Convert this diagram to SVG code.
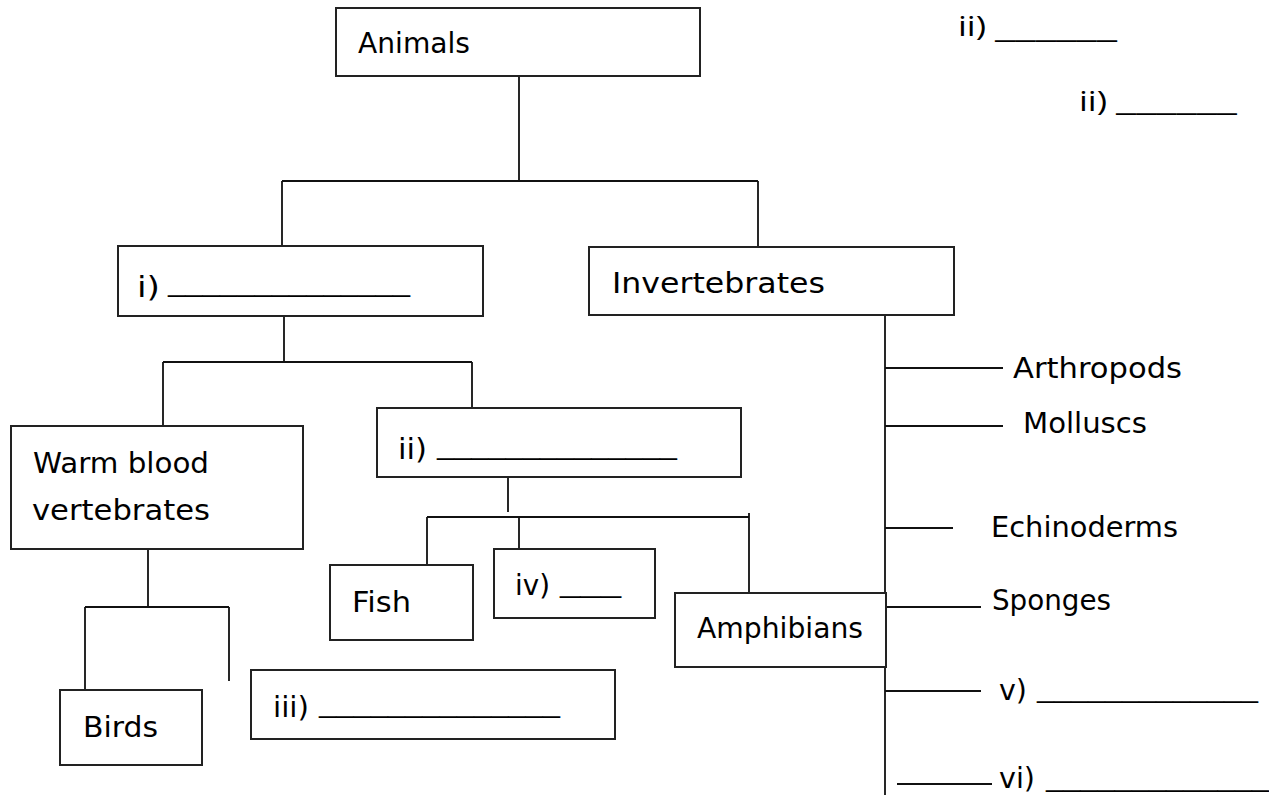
<svg xmlns="http://www.w3.org/2000/svg" width="1269" height="795" viewBox="0 0 1269 795">
<style>
.box{fill:#fff;stroke:#222;stroke-width:2}
.ln{fill:none;stroke:#111;stroke-width:1.8}
.t{font-family:"DejaVu Sans",sans-serif;font-size:27.5px;fill:#000}
.u{font-family:"DejaVu Sans",sans-serif;font-size:27px;fill:#000}
.c{font-family:"Open Sans",sans-serif;font-size:28px;fill:#000}
</style>
<rect width="1269" height="795" fill="#fff"/>
<g id="connectors">
<path class="ln" d="M519,76V181M282,181H758M282,181V246M758,181V247"/>
<path class="ln" d="M284,316V362M163,362H472M163,362V426M472,362V408"/>
<path class="ln" d="M508,477V512M427,517H749M427,517V565M519,517V549M749,513V592"/>
<path class="ln" d="M148,549V607M85,607H229M85,607V690M229,607V681"/>
<path class="ln" d="M885,315V795M885,368H1003M885,426H1003M885,528H953M885,607H981M885,691H981M897,784H992"/>
</g>
<g id="animals">
<rect class="box" x="336" y="8" width="364" height="68"/>
<text class="t" x="358" y="53" textLength="112" lengthAdjust="spacingAndGlyphs">Animals</text>
</g>
<g id="vertebrates">
<rect class="box" x="118" y="246" width="365" height="70"/>
<text class="t" x="137" y="297" textLength="23" lengthAdjust="spacingAndGlyphs">i)</text>
<text class="u" x="168" y="291" textLength="242" lengthAdjust="spacingAndGlyphs">______________</text>
</g>
<g id="invertebrates">
<rect class="box" x="589" y="247" width="365" height="68"/>
<text class="t" x="612" y="293" textLength="213" lengthAdjust="spacingAndGlyphs">Invertebrates</text>
</g>
<g id="warm-blood">
<rect class="box" x="11" y="426" width="292" height="123"/>
<text class="t" x="33" y="473" textLength="176" lengthAdjust="spacingAndGlyphs">Warm blood</text>
<text class="t" x="32" y="520" textLength="178" lengthAdjust="spacingAndGlyphs">vertebrates</text>
</g>
<g id="cold-blood">
<rect class="box" x="377" y="408" width="364" height="69"/>
<text class="t" x="398" y="459" textLength="29" lengthAdjust="spacingAndGlyphs">ii)</text>
<text class="u" x="437" y="454" textLength="240" lengthAdjust="spacingAndGlyphs">______________</text>
</g>
<g id="fish">
<rect class="box" x="330" y="565" width="143" height="75"/>
<text class="t" x="352" y="612" textLength="59" lengthAdjust="spacingAndGlyphs">Fish</text>
</g>
<g id="reptiles">
<rect class="box" x="494" y="549" width="161" height="69"/>
<text class="t" x="515" y="595" textLength="35" lengthAdjust="spacingAndGlyphs">iv)</text>
<text class="u" x="560" y="592" textLength="61" lengthAdjust="spacingAndGlyphs">___</text>
</g>
<g id="amphibians">
<rect class="box" x="675" y="593" width="211" height="74"/>
<text class="t" x="697" y="638" textLength="166" lengthAdjust="spacingAndGlyphs">Amphibians</text>
</g>
<g id="birds">
<rect class="box" x="60" y="690" width="142" height="75"/>
<text class="t" x="83" y="737" textLength="75" lengthAdjust="spacingAndGlyphs">Birds</text>
</g>
<g id="mammals">
<rect class="box" x="251" y="670" width="364" height="69"/>
<text class="t" x="273" y="717" textLength="36" lengthAdjust="spacingAndGlyphs">iii)</text>
<text class="u" x="319" y="712" textLength="241" lengthAdjust="spacingAndGlyphs">______________</text>
</g>
<g id="arthropods">
<text class="t" x="1013" y="378" textLength="169" lengthAdjust="spacingAndGlyphs">Arthropods</text>
</g>
<g id="molluscs">
<text class="t" x="1023" y="433" textLength="124" lengthAdjust="spacingAndGlyphs">Molluscs</text>
</g>
<g id="echinoderms">
<text class="t" x="991" y="537" textLength="187" lengthAdjust="spacingAndGlyphs">Echinoderms</text>
</g>
<g id="sponges">
<text class="t" x="992" y="610" textLength="119" lengthAdjust="spacingAndGlyphs">Sponges</text>
</g>
<g id="item-v">
<text class="t" x="999" y="700" textLength="28" lengthAdjust="spacingAndGlyphs">v)</text>
<text class="u" x="1037" y="697" textLength="221" lengthAdjust="spacingAndGlyphs">_____________</text>
</g>
<g id="item-vi">
<text class="t" x="999" y="788" textLength="36" lengthAdjust="spacingAndGlyphs">vi)</text>
<text class="u" x="1046" y="786" textLength="223" lengthAdjust="spacingAndGlyphs">_____________</text>
</g>
<g id="top-right-1">
<text class="c" x="958" y="36" textLength="28" lengthAdjust="spacingAndGlyphs">ii)</text>
<text class="c" x="995" y="38" textLength="122" lengthAdjust="spacingAndGlyphs">______</text>
</g>
<g id="top-right-2">
<text class="c" x="1079" y="111" textLength="28" lengthAdjust="spacingAndGlyphs">ii)</text>
<text class="c" x="1116" y="111" textLength="121" lengthAdjust="spacingAndGlyphs">______</text>
</g>
</svg>
